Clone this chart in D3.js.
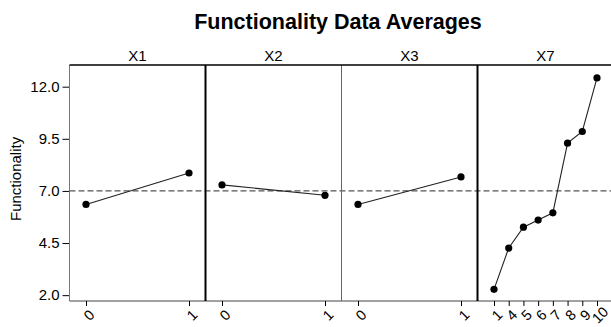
<!DOCTYPE html>
<html>
<head>
<meta charset="utf-8">
<script src="https://cdn.jsdelivr.net/npm/d3@7"></script>
<style>
  html, body { margin: 0; padding: 0; background: #fff; }
  svg { display: block; font-family: Arial, "Liberation Sans", Helvetica, sans-serif; }
</style>
</head>
<body>
<svg id="chart" width="611" height="327"></svg>
<script>
// ---- data ----
const panelNames = ["X1", "X2", "X3", "X7"];
const x1Levels = ["0", "1"];
const x1Means  = [6.35, 7.86];
const x2Levels = ["0", "1"];
const x2Means  = [7.29, 6.79];
const x3Levels = ["0", "1"];
const x3Means  = [6.35, 7.67];
const x7Levels = ["1", "4", "5", "6", "7", "8", "9", "10"];
const x7Means  = [2.28, 4.26, 5.26, 5.60, 5.95, 9.29, 9.85, 12.42];
const grandMean = 7.0;
const yTicks = [2.0, 4.5, 7.0, 9.5, 12.0];
const chartTitle = "Functionality Data Averages";
const yTitle = "Functionality";

const panels = [
  { name: panelNames[0], levels: x1Levels, means: x1Means },
  { name: panelNames[1], levels: x2Levels, means: x2Means },
  { name: panelNames[2], levels: x3Levels, means: x3Means },
  { name: panelNames[3], levels: x7Levels, means: x7Means }
];

// ---- layout ----
const svg = d3.select("#chart");
const mLeft = 69.5, mTop = 65, mBottom = 301, panelW = 136, inset = 16.5;
const mRight = mLeft + panelW * panels.length;

const y = d3.scaleLinear().domain([1.72, 13.04]).range([mBottom, mTop]);
const px = d3.scalePoint().domain(panelNames).range([mLeft, mLeft + panelW * 3]);

// title
svg.append("text")
  .attr("x", 338).attr("y", 29)
  .attr("text-anchor", "middle")
  .attr("font-size", 21.5).attr("font-weight", "bold")
  .attr("fill", "#000")
  .text(chartTitle);

// y axis title
svg.append("text")
  .attr("transform", `translate(21,${y(7.0) - 12}) rotate(-90)`)
  .attr("text-anchor", "middle")
  .attr("font-size", 15)
  .attr("fill", "#000")
  .text(yTitle);

// y axis
const yAxis = d3.axisLeft(y).tickValues(yTicks).tickFormat(d3.format(".1f")).tickSize(7).tickPadding(3);
const yg = svg.append("g").attr("transform", `translate(${mLeft},0)`).call(yAxis);
yg.select(".domain").remove();
yg.selectAll(".tick line").attr("stroke", "#000");
yg.selectAll(".tick text").attr("font-size", 15).attr("fill", "#000").attr("font-family", "Arial, 'Liberation Sans', sans-serif");

// left and bottom borders
svg.append("line").attr("x1", mLeft).attr("x2", mLeft).attr("y1", mTop).attr("y2", mBottom)
  .attr("stroke", "#777").attr("stroke-width", 1);
svg.append("line").attr("x1", mLeft).attr("x2", mRight).attr("y1", mBottom).attr("y2", mBottom)
  .attr("stroke", "#444").attr("stroke-width", 1);

// dashed reference line at grand mean
svg.append("line")
  .attr("x1", mLeft).attr("x2", 611)
  .attr("y1", y(grandMean)).attr("y2", y(grandMean))
  .attr("stroke", "#555").attr("stroke-width", 1.3)
  .attr("stroke-dasharray", "6,3");

panels.forEach((p, i) => {
  const x0 = px(p.name);
  const x = d3.scalePoint().domain(p.levels).range([x0 + inset, x0 + panelW - inset]);
  const g = svg.append("g");

  // panel title
  g.append("text")
    .attr("x", x0 + panelW / 2).attr("y", 61)
    .attr("text-anchor", "middle")
    .attr("font-size", 15).attr("fill", "#000")
    .text(p.name);

  // x axis ticks and labels
  const xa = d3.axisBottom(x).tickSize(5).tickFormat("");
  const xg = g.append("g").attr("transform", `translate(0,${mBottom})`).call(xa);
  xg.select(".domain").remove();
  xg.selectAll(".tick line").attr("stroke", "#000");
  p.levels.forEach(l => {
    g.append("text")
      .attr("transform", `translate(${x(l) + 3},${mBottom + 14}) rotate(-45)`)
      .attr("text-anchor", "middle")
      .attr("dy", "0.35em")
      .attr("font-size", 14.5).attr("fill", "#000")
      .text(l);
  });

  // line and points
  const data = p.levels.map((l, k) => ({ l, v: p.means[k] }));
  g.append("path")
    .datum(data)
    .attr("fill", "none").attr("stroke", "#222").attr("stroke-width", 1.1)
    .attr("d", d3.line().x(d => x(d.l)).y(d => y(d.v)));
  g.selectAll("circle").data(data).join("circle")
    .attr("cx", d => x(d.l)).attr("cy", d => y(d.v)).attr("r", 3.6)
    .attr("fill", "#000");
});

// panel separators
const sepStyles = [
  { w: 2, c: "#000" },
  { w: 1, c: "#666" },
  { w: 2, c: "#000" }
];
panelNames.slice(1).forEach((n, i) => {
  svg.append("line")
    .attr("x1", px(n)).attr("x2", px(n))
    .attr("y1", mTop).attr("y2", mBottom)
    .attr("stroke", sepStyles[i].c).attr("stroke-width", sepStyles[i].w);
});

// top border
svg.append("line").attr("x1", mLeft).attr("x2", 611).attr("y1", mTop).attr("y2", mTop)
  .attr("stroke", "#000").attr("stroke-width", 1.5);
</script>
</body>
</html>
